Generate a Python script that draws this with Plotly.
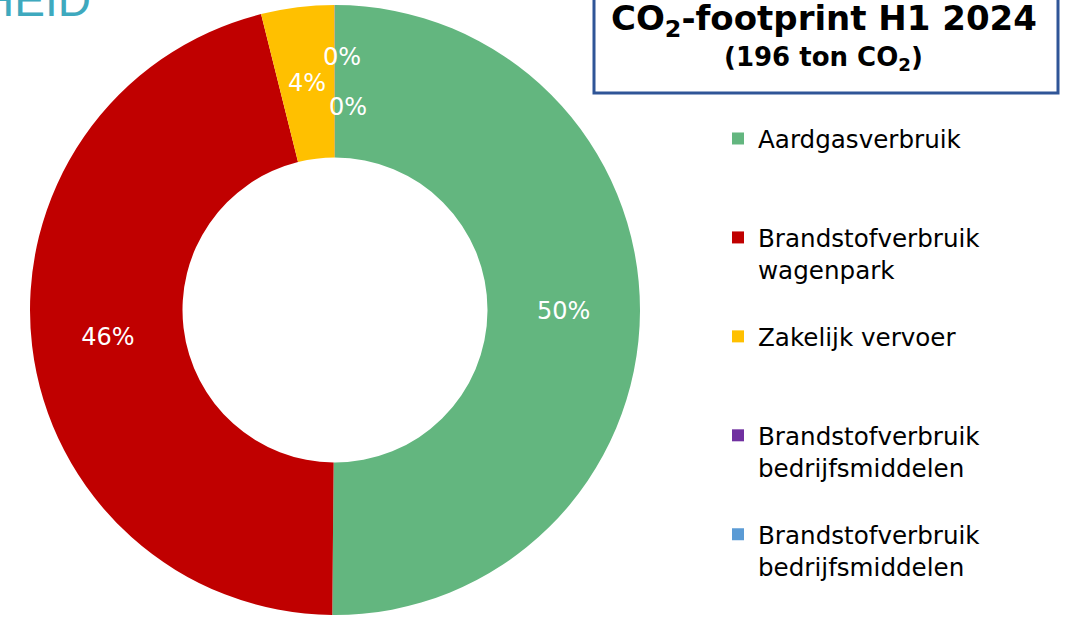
import math
import plotly.graph_objects as go

# ---- data ----
categories = [
    "Aardgasverbruik",
    "Brandstofverbruik<br>wagenpark",
    "Zakelijk vervoer",
    "Brandstofverbruik<br>bedrijfsmiddelen",
    "Brandstofverbruik<br>bedrijfsmiddelen\u00a0",
]
values_ton = [98.3, 90.1, 7.6, 0.02, 0.02]
colors = ["#63B67F", "#C00000", "#FFC000", "#7030A0", "#5B9BD5"]
slice_labels = ["50%", "46%", "", "", ""]
yellow_label = "4%"
small_labels = ["0%", "0%"]

W, H = 1071, 617
NBSP = "\u00a0"
CX, CY, R_OUT, HOLE = 335, 310, 305, 0.5

# pad legend entries (all but the last) to 3 lines for the wide spacing of the original
def pad(lbl):
    n = lbl.count("<br>") + 1
    return lbl + "<br>" + "<br>".join([NBSP] * (3 - n)) if n < 3 else lbl

legend_labels = [pad(c) for c in categories[:-1]] + [categories[-1]]

fig = go.Figure(
    go.Pie(
        labels=legend_labels,
        values=values_ton,
        hole=HOLE,
        sort=False,
        direction="clockwise",
        rotation=0,
        marker=dict(colors=colors, line=dict(width=0)),
        text=slice_labels,
        textinfo="text",
        textposition="inside",
        insidetextorientation="horizontal",
        textfont=dict(family="DejaVu Sans", size=24, color="white"),
        domain=dict(x=[(CX - R_OUT) / W, (CX + R_OUT) / W],
                    y=[1 - (CY + R_OUT) / H, 1 - (CY - R_OUT) / H]),
        showlegend=True,
    )
)

# label of the small yellow slice, at its mid-angle / mid-radius
total = sum(values_ton)
start = sum(values_ton[:2]) / total
mid_ang = 2 * math.pi * (start + values_ton[2] / total / 2)
r_mid = R_OUT * (1 + HOLE) / 2
lx = CX + r_mid * math.sin(mid_ang)
ly = CY - r_mid * math.cos(mid_ang)
lab_font = dict(family="DejaVu Sans", size=24, color="white")
fig.add_annotation(text=yellow_label, x=lx / W, y=1 - ly / H, xref="paper", yref="paper",
                   xanchor="center", yanchor="middle", showarrow=False, font=lab_font)

# labels of the two tiny slices (offset like the original)
fig.add_annotation(text=small_labels[0], x=342 / W, y=1 - 57 / H, xref="paper", yref="paper",
                   xanchor="center", yanchor="middle", showarrow=False, font=lab_font)
fig.add_annotation(text=small_labels[1], x=348 / W, y=1 - 107 / H, xref="paper", yref="paper",
                   xanchor="center", yanchor="middle", showarrow=False, font=lab_font)

# title box
fig.add_shape(type="rect", xref="paper", yref="paper",
              x0=594 / W, x1=1058 / W, y0=1 - 93 / H, y1=1 + 10 / H,
              line=dict(color="#2F5597", width=3), fillcolor="white", layer="below")
fig.add_annotation(text="<b>CO<sub>2</sub>-footprint H1 2024</b>", x=824 / W, y=1 - 20 / H,
                   xref="paper", yref="paper", xanchor="center", yanchor="middle",
                   showarrow=False,
                   font=dict(family="DejaVu Sans", size=34, color="black"))
fig.add_annotation(text="<b>(196 ton CO<sub>2</sub>)</b>", x=823 / W, y=1 - 59 / H,
                   xref="paper", yref="paper", xanchor="center", yanchor="middle",
                   showarrow=False,
                   font=dict(family="DejaVu Sans", size=26, color="black"))

# cropped logo text top-left
fig.add_annotation(text="HEID", x=93 / W, y=1 - 16 / H, xref="paper", yref="paper",
                   xanchor="right", yanchor="bottom", showarrow=False, yshift=-12,
                   font=dict(family="Liberation Sans", size=46, color="#3EA9BE"))

fig.update_layout(
    width=W, height=H,
    margin=dict(l=0, r=0, t=0, b=0),
    paper_bgcolor="white",
    plot_bgcolor="white",
    uniformtext=dict(minsize=24, mode="show"),
    legend=dict(
        x=718 / W, y=1 - 116 / H, xanchor="left", yanchor="top",
        valign="top",
        font=dict(family="DejaVu Sans", size=24.6, color="black"),
        bgcolor="rgba(0,0,0,0)",
        traceorder="normal",
    ),
)

fig.write_html("out.html", config={"displayModeBar": False},
               post_script="document.body.style.margin='0';")
